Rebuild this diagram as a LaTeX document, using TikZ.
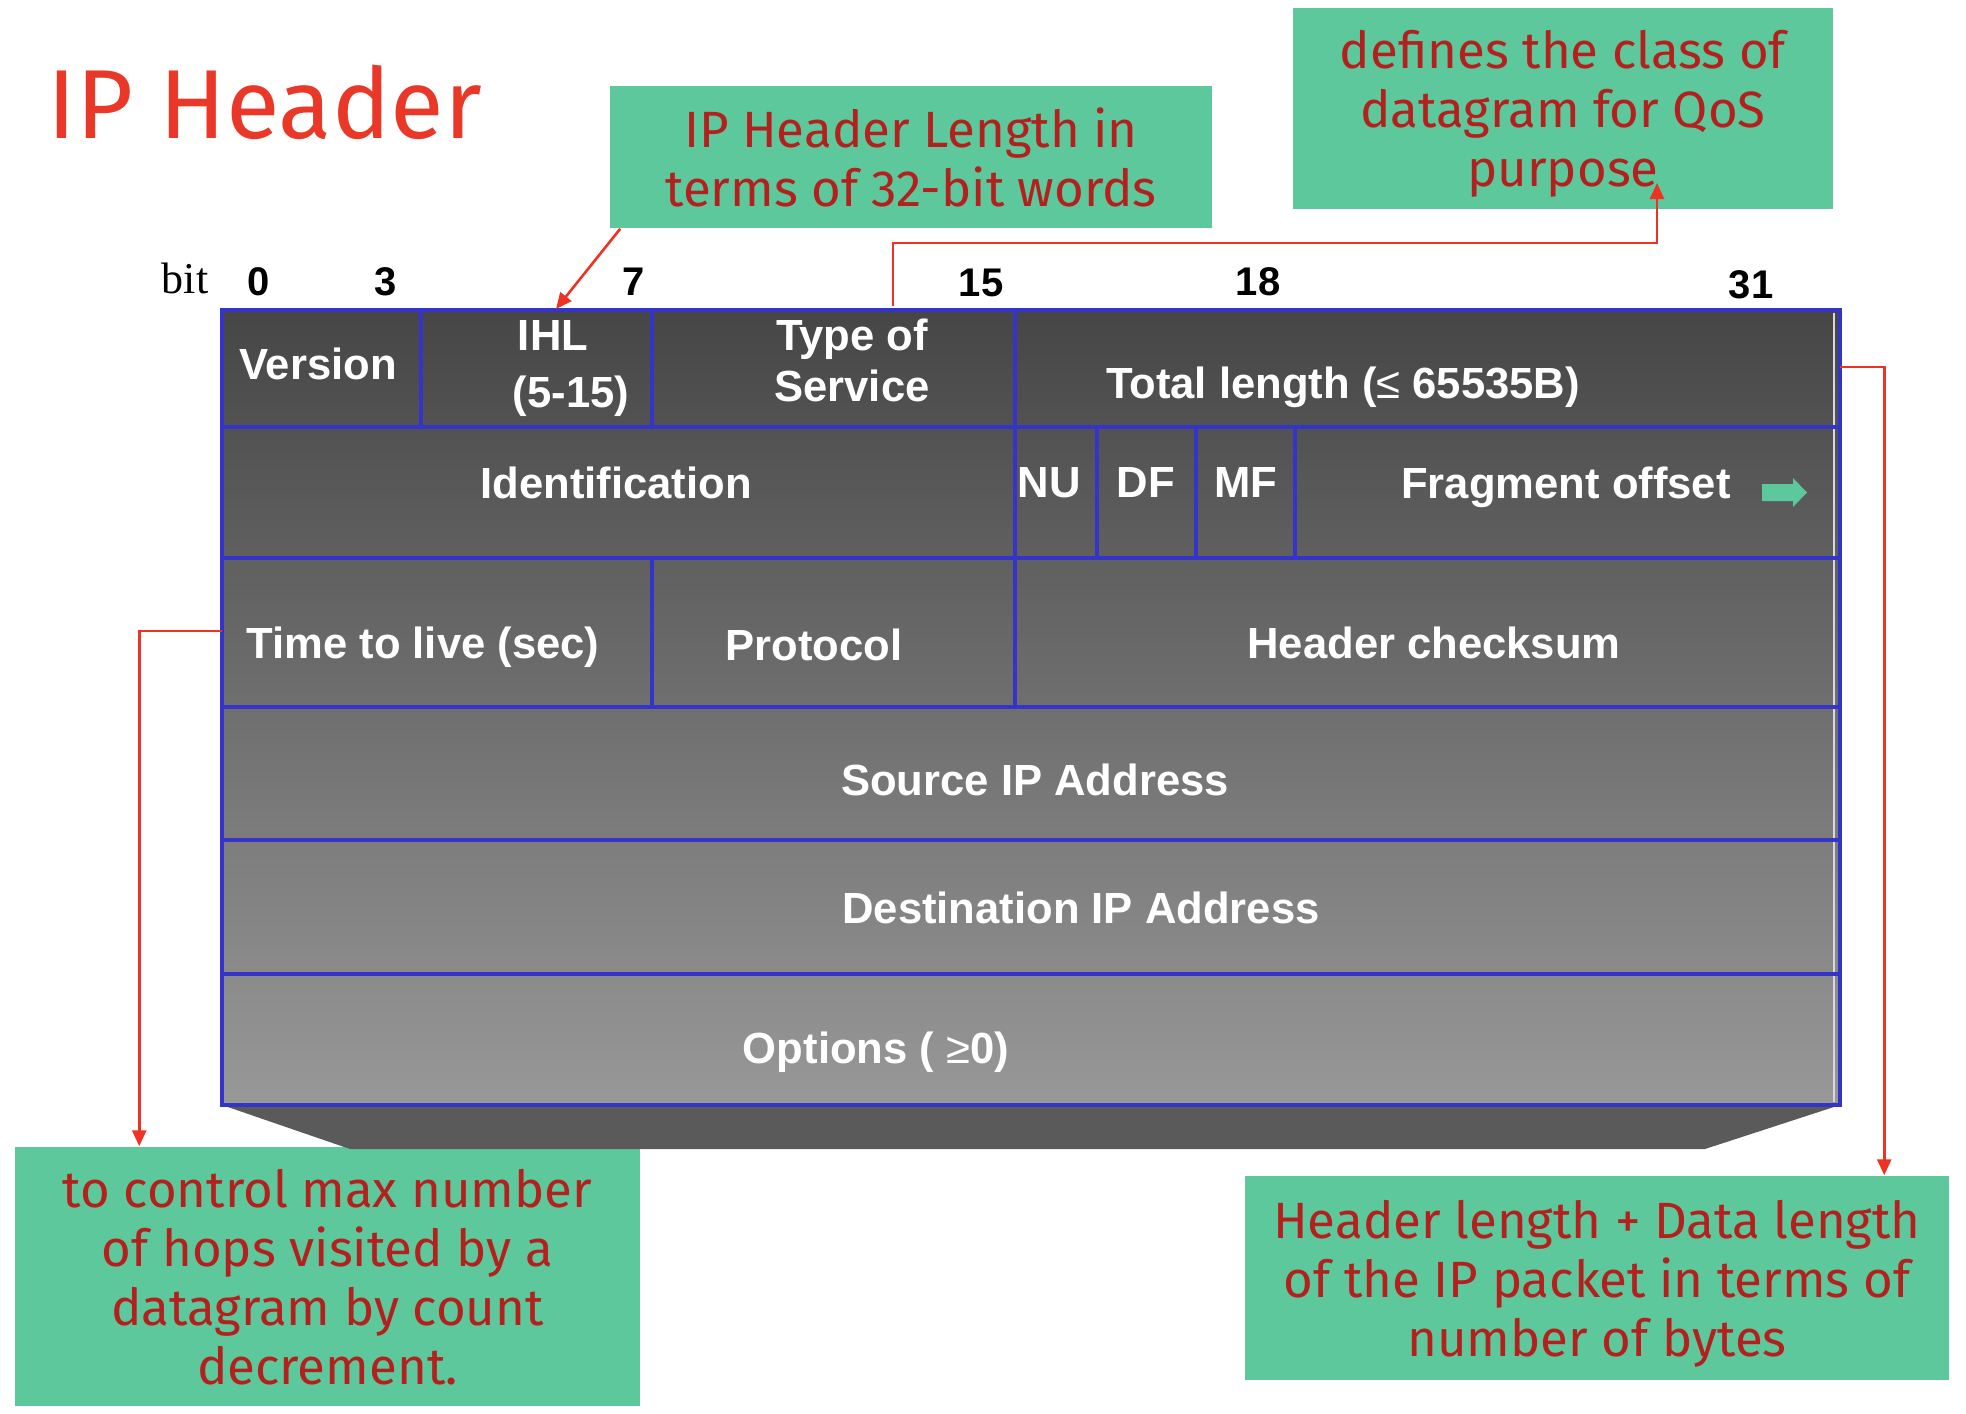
\documentclass[tikz,border=0pt]{standalone}
\usepackage{fontspec}
\setmainfont{Liberation Sans}
\newfontfamily\notefont{Fira Sans}
\newfontfamily\bitfont{Liberation Serif}
\usetikzlibrary{arrows.meta}

\definecolor{gridblue}{RGB}{52,52,200}
\definecolor{notegreen}{RGB}{92,200,155}
\definecolor{notered}{RGB}{180,32,30}
\definecolor{calloutred}{RGB}{238,50,36}
\definecolor{titlered}{RGB}{234,56,40}
\definecolor{shadowgray}{RGB}{90,90,90}

\tikzset{every picture/.style={line width=0.75pt}}
\tikzset{
  field/.style={anchor=base, inner sep=0.75pt, text=white, font=\fontsize{21.8}{26}\selectfont\bfseries},
  bitno/.style={anchor=base, inner sep=0.75pt, font=\fontsize{20}{24}\selectfont\bfseries},
  notebox/.style={fill=notegreen, draw=none, inner sep=0pt, align=center, text depth=0pt, text=notered, font=\notefont\fontsize{25.5}{29.5}\selectfont},
  gridline/.style={draw=gridblue, line width=2pt},
  callout/.style={draw=calloutred, line width=1.3pt, -{Triangle[length=8pt,width=7pt]}},
}

\begin{document}
\begin{tikzpicture}[x=0.5pt,y=0.5pt,yscale=-1,xscale=1]
        \useasboundingbox (0,0) rectangle (1966,1414);

        % Text Node
        \node [anchor=base west, inner sep=0pt, text=titlered, font=\notefont\fontsize{49}{58}\selectfont] (title) at (47,138) {IP Header};

        %Shape: Rectangle [notes]
        \node [notebox, minimum width=301pt, minimum height=71pt] (lenbox) at (911,157) {IP Header Length in\\terms of 32-bit words};
        \node [notebox, minimum width=270pt, minimum height=100.5pt] (qosbox) at (1563,108.5) {defines the class of\\datagram for QoS\\purpose};
        \node [notebox, minimum width=312.5pt, minimum height=129.5pt] (ttlbox) at (327.5,1276.5) {to control max number\\of hops visited by a\\datagram by count\\decrement.};
        \node [notebox, minimum width=352pt, minimum height=102pt] (totbox) at (1597,1278) {Header length + Data length\\of the IP packet in terms of\\number of bytes};

        % Text Node [bit numbers]
        \node [anchor=base, inner sep=0.75pt, font=\bitfont\fontsize{22}{26}\selectfont] (bitlbl) at (185,293) {bit};
        \foreach \n/\x/\y in {0/259/295, 3/386/295, 7/634/295, 15/981/296, 18/1258/295, 31/1751/298}
          \node [bitno] (bit\n) at (\x,\y) {\n};

        %Shape: Trapezoid [shadow]
        \fill [shadowgray] (222,1105) -- (1840,1105) -- (1705,1149) -- (350,1149) -- cycle;
        %Shape: Rectangle [header body]
        \shade [top color={rgb,255:red,70;green,70;blue,70}, bottom color={rgb,255:red,152;green,152;blue,152}] (222,310) rectangle (1840,1105);
        \draw [white!70!gray, line width=0.6pt] (1834,313) -- (1834,1102);

        %Straight Lines [grid]
        \draw [gridline] (222,310) rectangle (1840,1105);
        \foreach \y in {427,558,707,840,974}
          \draw [gridline] (222,\y) -- (1840,\y);
        \foreach \x in {421,652,1015}
          \draw [gridline] (\x,310) -- (\x,427);
        \foreach \x in {1015,1097,1196,1295}
          \draw [gridline] (\x,427) -- (\x,558);
        \foreach \x in {652,1015}
          \draw [gridline] (\x,558) -- (\x,707);

        % Text Node [fields]
        \node [field] (fver) at (318,379) {Version};
        \node [field] (fihl) at (553,350) {IHL};
        \node [field] (fihlr) at (571,407) {(5-15)};
        \node [field] (ftos) at (852,350) {Type of};
        \node [field] (ftosb) at (852,401) {Service};
        \node [field] (ftot) at (1343,398) {Total length ({\mdseries ≤} 65535B)};
        \node [field] (fid) at (616,498) {Identification};
        \node [field] (fnu) at (1049,497) {NU};
        \node [field] (fdf) at (1146,497) {DF};
        \node [field] (fmf) at (1246,497) {MF};
        \node [field] (ffrag) at (1566,498) {Fragment offset};
        \node [field] (fttl) at (423,658) {Time to live (sec)};
        \node [field] (fproto) at (814,660) {Protocol};
        \node [field] (fsum) at (1434,658) {Header checksum};
        \node [field] (fsrc) at (1035,795) {Source IP Address};
        \node [field] (fdst) at (1081,923) {Destination IP Address};
        \node [field] (fopt) at (876,1063) {Options ( {\mdseries ≥}0)};

        %Shape: Right Arrow
        \fill [notegreen] (1762,484) -- (1793,484) -- (1793,478) -- (1807,492.5) -- (1793,507) -- (1793,501) -- (1762,501) -- cycle;

        %Curve Lines [callouts]
        \coordinate (ihlTop) at (556,309);
        \coordinate (tosTop) at (893,306);
        \coordinate (qosBend) at (1657,243);
        \coordinate (qosIn) at (1657,183);
        \coordinate (ttlLeft) at (222,631);
        \coordinate (tlRight) at (1840,367);
        \draw [callout] ([xshift=5.5pt]lenbox.south west) -- (ihlTop);
        \draw [callout] (tosTop) |- (qosBend) -- (qosIn);
        \draw [callout] (ttlLeft) -| ([xshift=62.5pt]ttlbox.north west);
        \draw [callout] (tlRight) -| ([xshift=320pt]totbox.north west);

\end{tikzpicture}
\end{document}
